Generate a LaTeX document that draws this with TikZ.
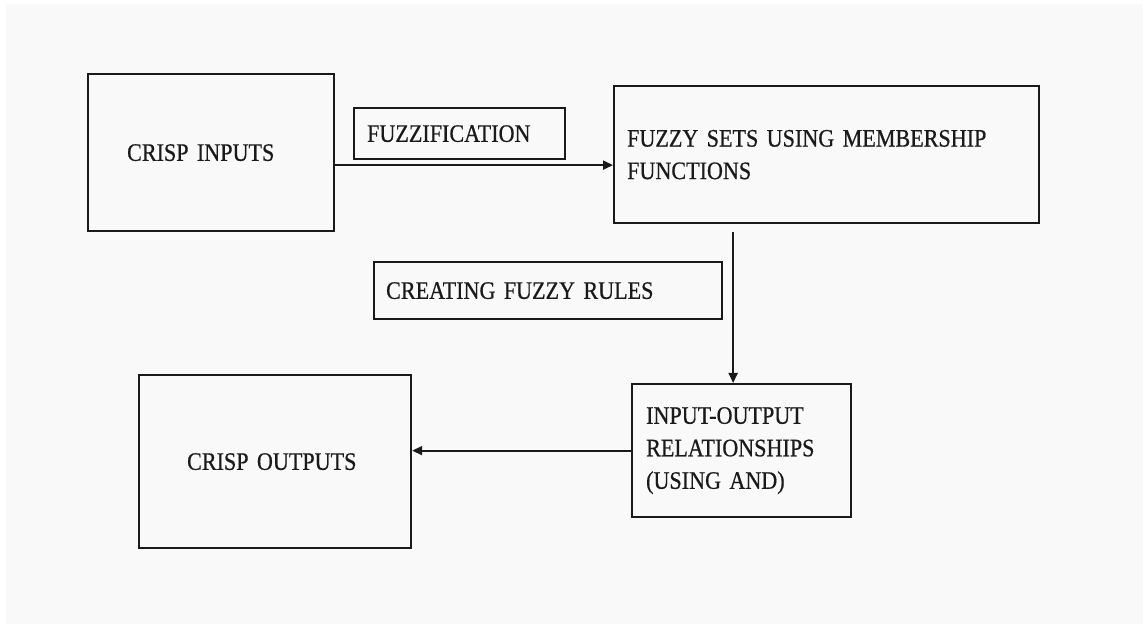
\documentclass[tikz,border=0pt]{standalone}
\usepackage{fontspec}
\setmainfont{Liberation Serif}[FakeStretch=0.88, FakeBold=0.6, WordSpace=0.75]
\usetikzlibrary{arrows.meta}
\definecolor{paper}{HTML}{F9F9F9}
\definecolor{ink}{HTML}{1A1A1A}
\begin{document}
\begin{tikzpicture}[
  x=0.02cm, y=-0.02cm,
  % one box = corner + size + left indent of its text
  stage/.style = {draw=ink, line width=1.3pt, anchor=north west, align=left,
                  text=ink, font=\fontsize{14.3}{18.5}\selectfont},
  flow/.style  = {draw=ink, line width=1.1pt, -{Triangle[length=0.2cm,width=0.18cm]}},
]
  \useasboundingbox (0,0) rectangle (1143,624);
  \fill[paper] (6,4) rectangle (1143,624);

  \node[stage, minimum width=4.92cm, minimum height=3.14cm,
        inner xsep=0.78cm, text width=3.36cm] (in) at (87,73) {CRISP INPUTS};
  \node[stage, minimum width=4.22cm, minimum height=1.02cm,
        inner xsep=0.26cm, text width=3.70cm] (fuzz) at (353,107) {FUZZIFICATION};
  \node[stage, minimum width=8.50cm, minimum height=2.74cm,
        inner xsep=0.26cm, text width=7.98cm] (sets) at (613,85)
        {FUZZY SETS USING MEMBERSHIP\\FUNCTIONS};
  \node[stage, minimum width=6.96cm, minimum height=1.14cm,
        inner xsep=0.24cm, text width=6.48cm] (rules) at (373,261)
        {CREATING FUZZY RULES};
  \node[stage, minimum width=4.38cm, minimum height=2.66cm,
        inner xsep=0.28cm, text width=3.82cm] (io) at (631,383)
        {INPUT-OUTPUT\\RELATIONSHIPS\\(USING AND)};
  \node[stage, minimum width=5.44cm, minimum height=3.46cm,
        inner xsep=0.96cm, text width=3.52cm] (out) at (138,374) {CRISP OUTPUTS};

  % connectors
  \draw[flow] ([yshift=-0.25cm]in.east) coordinate (a) -- (a -| sets.west);
  \coordinate (drop) at ([xshift=-0.17cm]io.north);
  \draw[flow] (drop |- sets.south) ++(0,8) -- (drop);
  \draw[flow] (io.west) -- (io.west -| out.east);
\end{tikzpicture}
\end{document}
